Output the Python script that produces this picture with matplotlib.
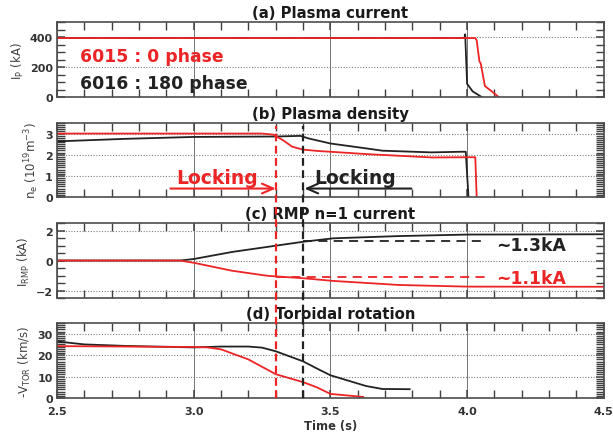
import matplotlib
matplotlib.use("Agg")
import matplotlib.pyplot as plt
from matplotlib.lines import Line2D
from matplotlib.ticker import MultipleLocator, FormatStrFormatter
from matplotlib.transforms import blended_transform_factory

plt.rcParams['font.family'] = 'DejaVu Sans'
plt.rcParams['font.weight'] = 'bold'
plt.rcParams['mathtext.default'] = 'regular'

RED = '#ec2426'
BLACK = '#222222'

# shot 6015 (0 phase, red) and 6016 (180 phase, black)
t_ip_6016 = [2.5, 3.99, 3.993, 4.0, 4.02, 4.055]
ip_6016 = [395, 395, 420, 90, 40, 0]
t_ip_6015 = [2.5, 4.03, 4.035, 4.045, 4.05, 4.065, 4.09, 4.117]
ip_6015 = [395, 395, 380, 240, 225, 75, 40, 0]

t_ne_6016 = [2.5, 2.75, 3.0, 3.3, 3.39, 3.42, 3.5, 3.63, 3.69, 3.87, 3.98, 3.995, 4.005]
ne_6016 = [2.63, 2.75, 2.84, 2.86, 2.89, 2.77, 2.53, 2.3, 2.19, 2.11, 2.14, 2.14, 0]
t_ne_6015 = [2.5, 3.25, 3.29, 3.325, 3.36, 3.40, 3.46, 3.5, 3.63, 3.75, 3.87, 4.0, 4.03, 4.035]
ne_6015 = [3.0, 3.0, 2.95, 2.7, 2.38, 2.24, 2.17, 2.14, 2.03, 1.95, 1.87, 1.88, 1.88, 0]

t_rmp = [2.5, 2.95, 3.0, 3.14, 3.27, 3.4, 3.51, 3.75, 4.0, 4.5]
rmp_6016 = [0, 0, 0.1, 0.57, 0.91, 1.25, 1.48, 1.63, 1.73, 1.75]
rmp_6015 = [0, 0, -0.15, -0.68, -1.02, -1.18, -1.36, -1.63, -1.74, -1.75]

t_vt_6016 = [2.5, 2.6, 2.75, 3.0, 3.1, 3.2, 3.25, 3.3, 3.4, 3.45, 3.5, 3.63, 3.69, 3.79]
vt_6016 = [26.4, 25.0, 24.3, 23.6, 24.0, 24.0, 23.5, 21.8, 17.1, 13.8, 10.6, 5.6, 4.2, 4.1]
t_vt_6015 = [2.5, 2.75, 3.0, 3.05, 3.1, 3.2, 3.3, 3.4, 3.45, 3.5, 3.62]
vt_6015 = [24.2, 24.0, 23.8, 23.6, 22.7, 18.0, 11.1, 7.4, 5.0, 1.9, 0.5]

t_lock_6015 = 3.3
t_lock_6016 = 3.4
rmp_level_6016 = 1.3
rmp_level_6015 = -1.1

fig = plt.figure(figsize=(6.13, 4.35), dpi=100)
left, width = 0.093, 0.892
ax_a = fig.add_axes([left, 0.774, width, 0.1724])
ax_b = fig.add_axes([left, 0.5448, width, 0.1702])
ax_c = fig.add_axes([left, 0.3126, width, 0.1724])
ax_d = fig.add_axes([left, 0.0828, width, 0.1724])

panels = [
    (ax_a, '(a) Plasma current', r'I$_P$ (kA)', (0, 500), 200, 50),
    (ax_b, '(b) Plasma density', r'n$_e$ (10$^{19}$m$^{-3}$)', (0, 3.5), 1, 0.1),
    (ax_c, '(c) RMP n=1 current', r'I$_{RMP}$ (kA)', (-2.5, 2.5), 2, 0.5),
    (ax_d, '(d) Toroidal rotation', r'-V$_{TOR}$ (km/s)', (0, 35), 10, 1),
]

for ax, title, ylabel, ylim, major, minor in panels:
    ax.set_xlim(2.5, 4.5)
    ax.set_ylim(*ylim)
    ax.xaxis.set_major_locator(MultipleLocator(0.5))
    ax.xaxis.set_minor_locator(MultipleLocator(0.1))
    ax.xaxis.set_major_formatter(FormatStrFormatter('%.1f'))
    ax.yaxis.set_major_locator(MultipleLocator(major))
    ax.yaxis.set_minor_locator(MultipleLocator(minor))
    ax.tick_params(which='both', direction='in', top=True, right=True,
                   color='0.25', labelcolor='0.2', labelsize=8)
    ax.tick_params(which='major', length=6, width=1.1)
    ax.tick_params(which='minor', length=5.5, width=1.0)
    ax.tick_params(axis='y', pad=3)
    ax.tick_params(axis='x', pad=6)
    ax.grid(axis='x', which='major', ls='-', color='0.45', lw=0.7)
    ax.grid(axis='y', which='major', ls=(0, (1, 1.5)), color='0.5', lw=0.8)
    for s in ax.spines.values():
        s.set_color('0.3')
        s.set_linewidth(1.2)
    ax.set_title(title, fontsize=10.7, fontweight='bold', pad=3.5, color='0.1')
    ax.set_ylabel(ylabel, fontsize=8.5, fontweight='normal', color='0.25', labelpad=3)
    if ax is not ax_d:
        ax.tick_params(labelbottom=False)

ax_d.set_xlabel('Time (s)', fontsize=8.3, fontweight='bold', color='0.2', labelpad=2)

# (a) plasma current
ax_a.plot(t_ip_6016, ip_6016, color=BLACK, lw=1.3)
ax_a.plot(t_ip_6015, ip_6015, color=RED, lw=1.3)
ax_a.text(2.584, 243, '6015 : 0 phase', color=RED, fontsize=12.4, fontweight='bold')
ax_a.text(2.584, 64, '6016 : 180 phase', color=BLACK, fontsize=12.4, fontweight='bold')

# (b) plasma density
ax_b.plot(t_ne_6016, ne_6016, color=BLACK, lw=1.3)
ax_b.plot(t_ne_6015, ne_6015, color=RED, lw=1.3)
ax_b.annotate('', xy=(t_lock_6015, 0.4), xytext=(2.915, 0.4),
              arrowprops=dict(arrowstyle='->,head_length=0.8,head_width=0.35',
                              color=RED, lw=1.5, shrinkA=0, shrinkB=0))
ax_b.annotate('', xy=(t_lock_6016 + 0.005, 0.4), xytext=(3.796, 0.4),
              arrowprops=dict(arrowstyle='->,head_length=0.8,head_width=0.35',
                              color=BLACK, lw=1.5, shrinkA=0, shrinkB=0))
ax_b.text(2.937, 0.64, 'Locking', color=RED, fontsize=13.5, fontweight='bold')
ax_b.text(3.442, 0.64, 'Locking', color=BLACK, fontsize=13.5, fontweight='bold')

# (c) RMP coil current
ax_c.plot(t_rmp, rmp_6016, color=BLACK, lw=1.3)
ax_c.plot(t_rmp, rmp_6015, color=RED, lw=1.3)
ax_c.plot([t_lock_6016, 4.068], [rmp_level_6016] * 2, color=BLACK, lw=1.3, ls=(0, (5, 3.5)))
ax_c.plot([t_lock_6015, 4.068], [rmp_level_6015] * 2, color=RED, lw=1.3, ls=(0, (5, 3.5)))
ax_c.text(4.106, 0.68, '~%.1fkA' % rmp_level_6016, color=BLACK, fontsize=12.4, fontweight='bold')
ax_c.text(4.106, -1.47, '~%.1fkA' % abs(rmp_level_6015), color=RED, fontsize=12.4, fontweight='bold')

# (d) toroidal rotation
ax_d.plot(t_vt_6016, vt_6016, color=BLACK, lw=1.3)
ax_d.plot(t_vt_6015, vt_6015, color=RED, lw=1.3)

# locking times, drawn across panels b-d
trans = blended_transform_factory(ax_d.transData, fig.transFigure)
y_top = ax_b.get_position().y1 - 0.007
y_bot = ax_d.get_position().y0
for t, c in [(t_lock_6015, RED), (t_lock_6016, BLACK)]:
    fig.lines.append(Line2D([t, t], [y_bot, y_top], transform=trans, color=c,
                            lw=1.6, ls=(0, (3.5, 2))))

fig.savefig('out.png', dpi=100)
